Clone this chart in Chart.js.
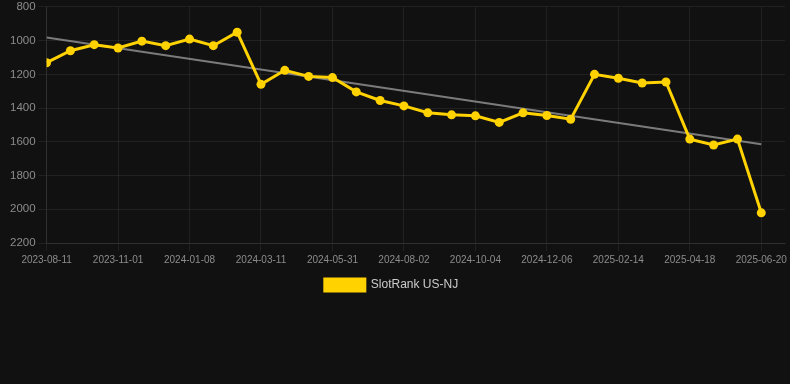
<!DOCTYPE html>
<html>
<head>
<meta charset="utf-8">
<script src="https://cdn.jsdelivr.net/npm/chart.js@4.4.1/dist/chart.umd.min.js"></script>
<style>
  html, body { margin: 0; padding: 0; background: #111111; overflow: hidden; }
  #wrap { width: 790px; height: 304px; position: relative; margin-top: -3px; }
</style>
</head>
<body>
<div id="wrap"><canvas id="c"></canvas></div>
<script>
// Categories (dates); every third one is shown as an axis tick label
const categories = [
  "2023-08-11", "2023-09-08", "2023-10-05",
  "2023-11-01", "2023-11-24", "2023-12-16",
  "2024-01-08", "2024-01-29", "2024-02-19",
  "2024-03-11", "2024-04-06", "2024-05-04",
  "2024-05-31", "2024-06-21", "2024-07-12",
  "2024-08-02", "2024-08-23", "2024-09-13",
  "2024-10-04", "2024-10-25", "2024-11-15",
  "2024-12-06", "2024-12-29", "2025-01-22",
  "2025-02-14", "2025-03-07", "2025-03-28",
  "2025-04-18", "2025-05-09", "2025-05-30",
  "2025-06-20"
];
// SlotRank US-NJ values
const rankValues = [
  1131, 1060, 1024, 1044, 1003, 1030, 991, 1030, 950, 1259,
  1176, 1212, 1219, 1304, 1355, 1387, 1428, 1440, 1446, 1485,
  1428, 1444, 1466, 1200, 1223, 1251, 1245, 1584, 1619, 1584,
  2021
];
// Trend line end values (first and last category)
const trendValues = [981, 1614];
// Y axis tick range
const yTicks = [800, 1000, 1200, 1400, 1600, 1800, 2000, 2200];

const seriesPoints = rankValues.map((v, i) => ({ x: i, y: v }));
const trendPoints = [
  { x: 0, y: trendValues[0] },
  { x: categories.length - 1, y: trendValues[1] }
];

const yellow = "#FFD200";
const tickColor = "#8c8c8c";
const gridColor = "rgba(255,255,255,0.07)";

// nudge the centred legend slightly left, as in the reference
const legendShift = {
  id: "legendShift",
  afterLayout(chart) {
    if (chart.legend) chart.legend.right -= 14;
  }
};

new Chart(document.getElementById("c"), {
  type: "line",
  plugins: [legendShift],
  data: {
    datasets: [
      {
        label: "SlotRank US-NJ",
        data: seriesPoints,
        borderColor: yellow,
        backgroundColor: yellow,
        borderWidth: 3,
        pointRadius: 4.5,
        pointHoverRadius: 4.5,
        pointBackgroundColor: yellow,
        pointBorderColor: yellow,
        pointBorderWidth: 0,
        tension: 0
      },
      {
        label: "trend",
        data: trendPoints,
        borderColor: "rgba(150,150,150,0.8)",
        borderWidth: 2,
        pointRadius: 0,
        fill: false
      }
    ]
  },
  options: {
    responsive: true,
    maintainAspectRatio: false,
    animation: false,
    layout: { padding: { left: 7, right: 0, top: 0, bottom: 0 } },
    plugins: {
      legend: {
        position: "bottom",
        labels: {
          color: "#cccccc",
          font: { family: "'Liberation Sans', Arial, sans-serif", size: 12 },
          boxWidth: 40,
          boxHeight: 12,
          filter: (item) => item.text !== "trend"
        }
      },
      tooltip: { enabled: false }
    },
    scales: {
      x: {
        type: "linear",
        min: 0,
        max: categories.length,
        grid: { color: gridColor, tickColor: gridColor },
        border: { color: gridColor },
        ticks: {
          stepSize: 3,
          includeBounds: false,
          autoSkip: false,
          maxRotation: 0,
          color: tickColor,
          font: { family: "'Liberation Sans', Arial, sans-serif", size: 10 },
          callback: (v) => (Number.isInteger(v) && categories[v]) ? categories[v] : null
        }
      },
      y: {
        reverse: true,
        min: yTicks[0],
        max: yTicks[yTicks.length - 1],
        grid: { color: gridColor, tickColor: gridColor },
        border: { color: gridColor },
        ticks: {
          stepSize: 200,
          color: tickColor,
          font: { family: "'Liberation Sans', Arial, sans-serif", size: 11.5 },
          callback: (v) => String(v)
        }
      }
    }
  }
});
</script>
</body>
</html>
